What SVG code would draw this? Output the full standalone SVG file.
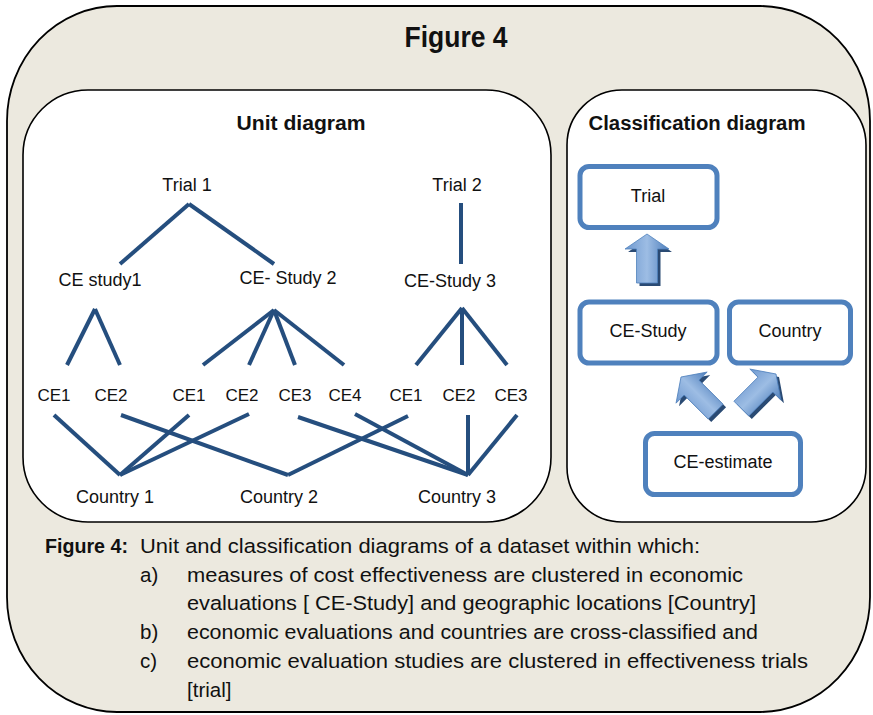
<svg xmlns="http://www.w3.org/2000/svg" width="873" height="715" viewBox="0 0 873 715">
<style>
.frame{fill:#fff;stroke:#000;stroke-width:1.6}
.lbl{font-family:"Liberation Sans",Arial,sans-serif;font-size:18px;fill:#111;text-anchor:middle}
.ce{font-size:17px}
.hd{font-family:"Liberation Sans",Arial,sans-serif;font-weight:bold;fill:#111;text-anchor:middle}
.cap{font-family:"Liberation Sans",Arial,sans-serif;font-size:20.5px;fill:#111}
.box{fill:#fff;stroke:#4F81BD;stroke-width:5}
.ln{stroke:#254E7E;stroke-width:4;fill:none}
</style>
<defs>
<linearGradient id="ag" x1="0" y1="0" x2="1" y2="0">
<stop offset="0" stop-color="#6E98CF"/>
<stop offset="0.5" stop-color="#9DBDE4"/>
<stop offset="1" stop-color="#4F7FBC"/>
</linearGradient>
<polygon id="arr" points="0,0 22,15 10.5,15 10.5,49 -10.5,49 -10.5,15 -22,15"/>
</defs>

<g id="outer">
<rect x="7" y="6" width="863" height="706" rx="110" ry="115" fill="#ECE9DF" stroke="#000" stroke-width="1.8"/>
<text class="hd" x="456" y="47" font-size="29" textLength="103" lengthAdjust="spacingAndGlyphs">Figure 4</text>
</g>

<g id="unit-diagram">
<rect class="frame" x="23" y="90" width="528" height="432" rx="65" ry="65"/>
<text class="hd" x="301" y="130" font-size="20" textLength="129" lengthAdjust="spacingAndGlyphs">Unit diagram</text>
</g>

<g id="classification-diagram">
<rect class="frame" x="567" y="90" width="299" height="432" rx="55" ry="55"/>
<text class="hd" x="697" y="130" font-size="20" textLength="217" lengthAdjust="spacingAndGlyphs">Classification diagram</text>
</g>

<g id="unit-connectors">
<line class="ln" x1="189" y1="204" x2="120" y2="264"/>
<line class="ln" x1="189" y1="204" x2="274" y2="264"/>
<line class="ln" x1="461" y1="203" x2="461" y2="264"/>
<line class="ln" x1="95" y1="309" x2="67" y2="365"/>
<line class="ln" x1="95" y1="309" x2="120" y2="365"/>
<line class="ln" x1="274" y1="310" x2="203" y2="365"/>
<line class="ln" x1="274" y1="310" x2="249" y2="365"/>
<line class="ln" x1="274" y1="310" x2="295" y2="365"/>
<line class="ln" x1="274" y1="310" x2="344" y2="365"/>
<line class="ln" x1="462" y1="308" x2="416" y2="365"/>
<line class="ln" x1="462" y1="308" x2="462" y2="365"/>
<line class="ln" x1="462" y1="308" x2="507" y2="365"/>
<line class="ln" x1="54" y1="415" x2="120" y2="475"/>
<line class="ln" x1="189" y1="415" x2="120" y2="475"/>
<line class="ln" x1="249" y1="414" x2="120" y2="475"/>
<line class="ln" x1="121" y1="415" x2="288" y2="475"/>
<line class="ln" x1="408" y1="416" x2="288" y2="475"/>
<line class="ln" x1="298" y1="417" x2="468" y2="475"/>
<line class="ln" x1="355" y1="414" x2="468" y2="475"/>
<line class="ln" x1="468" y1="415" x2="468" y2="475"/>
<line class="ln" x1="517" y1="415" x2="468" y2="475"/>
</g>

<g id="trial1"><text class="lbl" x="187" y="191">Trial 1</text></g>
<g id="trial2"><text class="lbl" x="457" y="191">Trial 2</text></g>
<g id="ce-study1"><text class="lbl" x="100" y="286">CE study1</text></g>
<g id="ce-study2"><text class="lbl" x="288" y="284">CE- Study 2</text></g>
<g id="ce-study3"><text class="lbl" x="450" y="287">CE-Study 3</text></g>
<g id="s1-ce1"><text class="lbl ce" x="54" y="401">CE1</text></g>
<g id="s1-ce2"><text class="lbl ce" x="111" y="401">CE2</text></g>
<g id="s2-ce1"><text class="lbl ce" x="189" y="401">CE1</text></g>
<g id="s2-ce2"><text class="lbl ce" x="242" y="401">CE2</text></g>
<g id="s2-ce3"><text class="lbl ce" x="295" y="401">CE3</text></g>
<g id="s2-ce4"><text class="lbl ce" x="345" y="401">CE4</text></g>
<g id="s3-ce1"><text class="lbl ce" x="406" y="401">CE1</text></g>
<g id="s3-ce2"><text class="lbl ce" x="459" y="401">CE2</text></g>
<g id="s3-ce3"><text class="lbl ce" x="511" y="401">CE3</text></g>
<g id="country1"><text class="lbl" x="115" y="503">Country 1</text></g>
<g id="country2"><text class="lbl" x="279" y="503">Country 2</text></g>
<g id="country3"><text class="lbl" x="457" y="503">Country 3</text></g>

<g id="class-trial">
<rect class="box" x="580" y="166.5" width="137" height="61" rx="9"/>
<text class="lbl" x="648" y="202">Trial</text>
</g>
<g id="class-ce-study">
<rect class="box" x="580" y="302" width="137" height="61" rx="9"/>
<text class="lbl" x="648" y="337">CE-Study</text>
</g>
<g id="class-country">
<rect class="box" x="729.5" y="302" width="121" height="61" rx="9"/>
<text class="lbl" x="790" y="337">Country</text>
</g>
<g id="class-ce-estimate">
<rect class="box" x="645.5" y="433.5" width="155" height="61" rx="9"/>
<text class="lbl" x="723" y="468">CE-estimate</text>
</g>

<g id="class-connectors">
<use href="#arr" fill="#2A4A73" transform="translate(650,237)"/>
<use href="#arr" fill="url(#ag)" stroke="#4F81BD" stroke-width="0.8" transform="translate(647,234)"/>
<use href="#arr" fill="#2A4A73" transform="translate(684,380) rotate(-45)"/>
<use href="#arr" fill="url(#ag)" stroke="#4F81BD" stroke-width="0.8" transform="translate(681,377) rotate(-45)"/>
<use href="#arr" fill="#2A4A73" transform="translate(779,377) rotate(45)"/>
<use href="#arr" fill="url(#ag)" stroke="#4F81BD" stroke-width="0.8" transform="translate(776,374) rotate(45)"/>
</g>

<g id="caption">
<text class="cap" x="45" y="553" font-weight="bold" textLength="83" lengthAdjust="spacingAndGlyphs">Figure 4:</text>
<text class="cap" x="140" y="553" textLength="560" lengthAdjust="spacingAndGlyphs">Unit and classification diagrams of a dataset within which:</text>
<text class="cap" x="140" y="582">a)</text>
<text class="cap" x="187" y="582" textLength="556" lengthAdjust="spacingAndGlyphs">measures of cost effectiveness are clustered in economic</text>
<text class="cap" x="187" y="610" textLength="569" lengthAdjust="spacingAndGlyphs">evaluations [ CE-Study] and geographic locations [Country]</text>
<text class="cap" x="140" y="639">b)</text>
<text class="cap" x="187" y="639" textLength="571" lengthAdjust="spacingAndGlyphs">economic evaluations and countries are cross-classified and</text>
<text class="cap" x="140" y="668">c)</text>
<text class="cap" x="187" y="668" textLength="621" lengthAdjust="spacingAndGlyphs">economic evaluation studies are clustered in effectiveness trials</text>
<text class="cap" x="187" y="697">[trial]</text>
</g>
</svg>
